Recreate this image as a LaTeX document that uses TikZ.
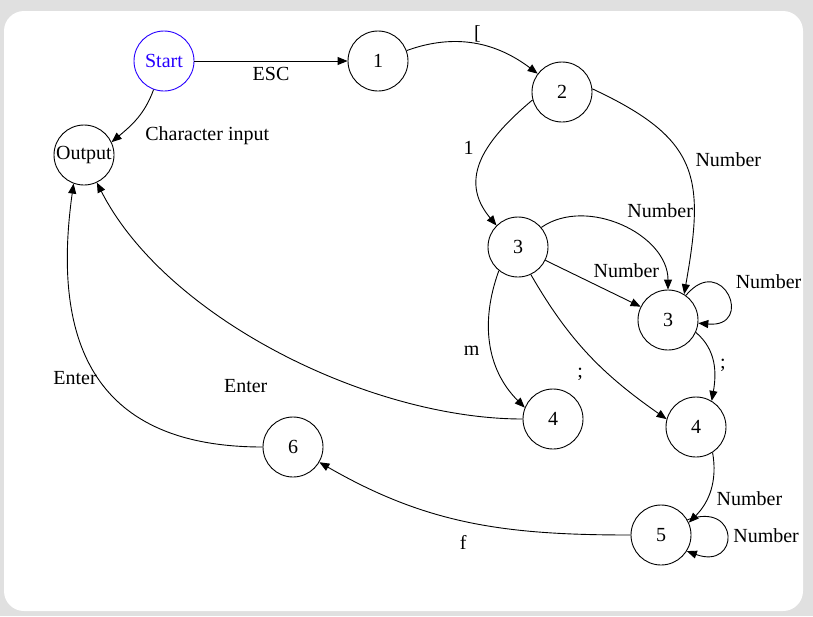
\documentclass[tikz,border=0pt]{standalone}
\usepackage{fontspec}
\setmainfont{Liberation Serif}
\usetikzlibrary{arrows.meta}
\definecolor{framegray}{RGB}{224,224,224}
\definecolor{startblue}{RGB}{40,0,255}

\begin{document}
\begin{tikzpicture}[x=1pt,y=1pt,line width=0.9pt,
    state/.style={draw,circle,minimum size=60pt,inner sep=0pt,font=\fontsize{20}{24}\selectfont},
    lbl/.style={font=\fontsize{20}{24}\selectfont,inner sep=2pt},
    >={Triangle[length=10pt,width=8pt]}]
    \pgfmathsetmacro{\W}{813}
    \pgfmathsetmacro{\H}{616}
    \useasboundingbox (0,0) rectangle (\W,-\H);
    \fill[framegray] (0,0) rectangle (\W,-\H);
    \fill[white,rounded corners=20pt] (4,-11) rectangle (803,-611);

    \node[state,draw=startblue,text=startblue] (start) at (164,-61) {Start};
    \node[state] (one) at (378,-61) {1};
    \node[state] (output) at (84,-155) {Output};
    \node[state] (two) at (562,-92) {2};
    \node[state] (three) at (518,-247) {3};
    \node[state] (threeb) at (668,-320) {3};
    \node[state] (four) at (553,-419) {4};
    \node[state] (fourb) at (696,-427) {4};
    \node[state] (five) at (661,-535) {5};
    \node[state] (six) at (293,-447) {6};

    \draw[->] (start) -- (one) node[lbl,midway,below=4pt] {ESC};
    \draw[->] (start) to[out=-110,in=40] node[lbl,pos=0.8,right=20pt,yshift=-3pt] {Character input} (output.25);
    \draw[->] (one) to[out=20,in=143] node[lbl,pos=0.52,above] {[} (two.143);
    \draw[->] (two.195) to[out=220,in=130,looseness=1.2] node[lbl,pos=0.4,left=12pt] {1} (three.135);
    \draw[->] (two.6) to[out=-25,in=80,looseness=1.35] node[lbl,pos=0.4,right=16pt,yshift=-11pt] {Number} (threeb.58);
    \draw[->] (three.40) to[out=35,in=90] node[lbl,pos=0.62,above,xshift=21pt,yshift=17pt] {Number} (threeb);
    \draw[->] (three) -- node[lbl,pos=0.85,above=20pt] {Number} (threeb);
    \draw[->] (threeb.54) to[out=50,in=-5,looseness=4.8] node[lbl,pos=0.35,right=14pt,yshift=3pt] {Number} (threeb.-6);
    \draw[->] (threeb.-24) to[out=-40,in=80] node[lbl,pos=0.45,right=5pt,yshift=-6pt] {;} (fourb.59);
    \draw[->] (three.-129) to[out=-110,in=135] node[lbl,pos=0.55,left=10pt] {m} (four.158);
    \draw[->] (three.-65) to[out=-60,in=145] node[lbl,pos=0.5,below left,yshift=-10pt,xshift=-4pt] {;} (fourb.165);
    \draw[->] (four) to[out=180,in=-63,looseness=0.8] node[lbl,pos=0.6,below=52pt,xshift=13pt] {Enter} (output.-65);
    \draw[->] (fourb.-57) to[out=-80,in=45] node[lbl,pos=0.5,right=4pt,yshift=-8pt] {Number} (five.24);
    \draw[->] (five.30) to[out=20,in=-20,looseness=4.6] node[lbl,pos=0.5,right=4pt] {Number} (five.-32);
    \draw[->] (five) to[out=180,in=-30] node[lbl,pos=0.56,below=15pt,xshift=12pt] {f} (six);
    \draw[->] (six) to[out=180,in=-98,looseness=1.3] node[lbl,pos=0.45,left=1pt,xshift=-7pt,yshift=12pt] {Enter} (output.250);
\end{tikzpicture}
\end{document}
